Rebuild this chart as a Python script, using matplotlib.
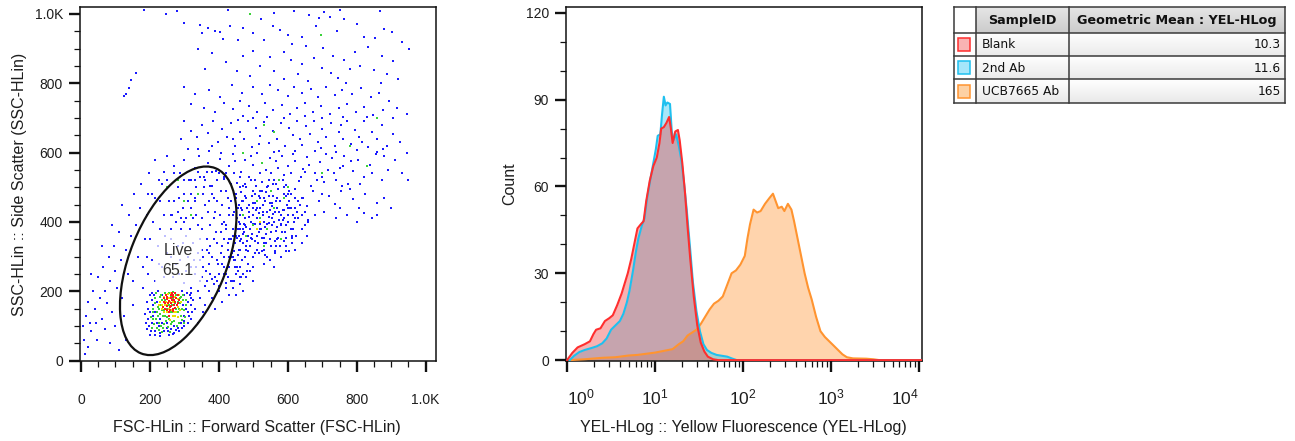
import numpy as np
import matplotlib
matplotlib.use("Agg")
import matplotlib.pyplot as plt
from matplotlib.patches import Ellipse, Rectangle
from matplotlib.ticker import MultipleLocator, LogLocator, NullFormatter

plt.rcParams['font.family'] = ['Liberation Sans', 'DejaVu Sans']
plt.rcParams['mathtext.fontset'] = 'custom'
plt.rcParams['mathtext.rm'] = 'Liberation Sans'
plt.rcParams['mathtext.it'] = 'Liberation Sans:italic'
plt.rcParams['mathtext.bf'] = 'Liberation Sans:bold'

# ---------------- scatter (FSC vs SSC) data ----------------
scatter_ticks = [0, 200, 400, 600, 800, 1000]
scatter_ticklabels = ['0', '200', '400', '600', '800', '1.0K']

blue_top = [(182,1012),(278,1008),(425,1010),(618,1009),(706,1006),(752,1011),(868,1009),(560,1002),(662,996),(690,988),
            (246,999),(522,986),(722,992),(300,975),(345,968),(432,966),(470,958),(556,966),(683,964),(880,956),
            (368,958),(388,952),(402,948),(576,954),(742,950),(903,948),(800,972),(762,984),(600,938),(640,934),
            (820,934),(852,930),(500,944),(352,944),(931,918),
            (412,928),(456,924),(532,924),(612,914),(652,908),(702,903),(832,904),(795,889),(872,879),(732,879),
            (762,868),(906,864),(952,898),(588,890),(548,876),(500,892),(470,880),(380,886),(338,898),(610,868),
            (640,855),(675,872),(700,845),(725,830),(780,842),(810,850),(850,838),(888,826),(920,812),(145,810),
            (160,830),(130,770),(360,840),(420,860),(452,835),(490,822),(520,850),(560,835),(590,812),(630,826),
            (660,808),(745,815),(770,800),(870,802)]

blue_upper = [(300,790),(330,770),(372,782),(402,760),(438,795),(468,772),(498,790),(525,768),(548,795),(572,780),
              (600,764),(618,790),(642,772),(668,784),(688,760),(712,790),(738,766),(758,782),(785,770),(812,786),
              (840,760),(866,772),(895,748),(918,730),(945,710),(356,730),(388,718),(415,742),(442,725),(462,748),
              (488,735),(512,716),(535,744),(558,722),(582,738),(606,712),(628,730),(650,742),(672,718),(695,735),
              (722,712),(748,728),(772,740),(798,716),(822,732),(848,708),(875,722),(905,700),(320,740),(470,705),
              (540,702),(590,700),(650,705),(700,700),(760,702),(830,702),
              (300,690),(318,662),(336,645),(352,680),(368,656),(384,690),(396,632),(410,668),(424,645),(436,685),
              (448,620),(460,660),(472,640),(484,690),(496,615),(508,672),(520,648),(532,688),(544,628),(556,662),
              (568,640),(580,685),(592,618),(604,670),(616,650),(628,690),(640,622),(652,676),(664,655),(676,690),
              (688,630),(700,668),(712,645),(724,685),(736,620),(748,660),(760,640),(772,690),(784,625),(796,665),
              (808,645),(820,690),(832,615),(845,660),(858,640),(872,680),(888,620),(905,655),(925,630),(945,600),
              (340,610),(372,605),(405,600),(440,640),(500,700),(560,602),(620,605),(680,605),(740,602),(800,608),
              (860,602),(290,640),(310,610),(380,620),(455,695),(515,625),(575,605),(635,640),(695,612),(755,680),
              (815,630),(875,610)]

blue_middle = [(250,590),(270,560),(288,540),(300,580),(318,520),(330,555),(342,590),(356,530),(368,570),(380,505),
               (392,548),(404,582),(416,525),(428,560),(440,595),(452,512),(464,545),(476,578),(488,530),(500,565),
               (512,598),(524,515),(536,550),(548,585),(560,520),(572,555),(584,590),(596,508),(608,542),(620,575),
               (632,518),(644,552),(656,588),(668,505),(680,540),(692,572),(704,515),(716,550),(728,585),(740,520),
               (752,556),(764,590),(776,510),(790,548),(805,580),(820,530),(838,565),(855,595),(872,520),(890,550),
               (910,580),(930,540),(950,520),(420,540),(446,575),(470,505),(494,590),(518,540),(542,505),(566,575),
               (590,535),(614,595),(638,530),(662,565),(686,520),(710,595),(734,540),(758,505),(782,575),(810,510),
               (845,540),(880,590),(225,520),(240,545),(215,580),(460,530),(505,520),(550,540),(600,560),(650,545),
               (700,530),(760,560),
               (620,495),(640,470),(655,445),(672,488),(690,460),(705,430),(720,475),(738,452),(755,490),(772,420),
               (790,465),(808,440),(825,480),(845,410),(860,455),(880,470),(640,420),(660,405),(700,480),(740,410),
               (780,495),(820,425),(600,480),(610,440),(680,420),(750,440),(800,400),(860,420),(620,410),(900,440)]

blue_left_tail = [(10,60),(20,40),(25,110),(15,130),(30,85),(40,150),(45,60),(55,180),(60,120),(70,200),
                  (75,165),(85,230),(90,140),(100,260),(105,210),(115,290),(120,180),(130,320),(135,250),(145,360),
                  (150,230),(160,390),(165,300),(170,440),(180,270),(185,350),(190,420),(195,480),(140,420),(110,370),
                  (95,330),(80,300),(65,270),(50,240),(35,200),(20,170),(5,100),(12,20),(42,110),(70,90),
                  (100,100),(125,130),(150,160),(60,330),(90,390),(120,450),(155,480),(175,510),(198,540),(130,60),
                  (30,250),(85,50),(110,30),(124,762),(140,786)]

blue_gate = [(180,210),(195,250),(205,290),(215,230),(222,330),(228,380),(235,270),(240,420),(248,310),(255,460),
             (262,350),(268,240),(275,400),(282,500),(288,290),(295,440),(300,225),(305,360),(312,520),(318,270),
             (325,410),(332,470),(338,310),(345,230),(350,380),(356,500),(362,260),(368,430),(374,330),(380,480),
             (386,220),(392,370),(398,280),(404,420),(410,330),(416,250),(422,390),(428,300),(434,460),(440,360),
             (446,270),(452,410),(458,320),(464,240),(470,380),(476,300),(482,440),(200,350),(210,400),(230,460),
             (250,520),(270,540),(290,380),(310,300),(330,250),(350,320),(370,280),(390,240),(410,450),(430,350),
             (450,480),(225,280),(245,360),(265,420),(285,470),(305,410),(325,340),(345,290),(365,350),(385,410),
             (405,370),(425,270),(445,230),(465,350),(215,470),(235,510),(260,380),(280,330),(300,480),(320,440),
             (340,390),(360,450),(380,300),(400,250),(420,490),(440,420),(460,270),(480,330),(190,300),(205,480),
             (275,280),(295,340),(315,380),(335,420),(355,270),(375,390),(395,460),(415,300),(435,230),(455,440),
             (475,390),(240,240),(262,300),(284,250),(306,260),(328,290),(350,240),(372,310),(394,340),(416,400),
             (438,310),(460,380),(482,260),(320,210),(300,520),(360,520),(400,540),(380,545),(340,545),
             (380,180),(400,200),(420,210),(440,230),(460,220),(470,200),(360,160),(390,150),(410,170),(450,190),
             (480,240),(500,230),(430,190),(370,200),(345,180),(355,140),(330,150),(320,120),(340,110),(300,100),
             (310,140),(365,230),(395,230),(425,240),
             (335,500),(345,530),(355,480),(365,545),(375,505),(385,470),(395,520),(405,490),(415,530),(425,470),
             (435,510),(445,540),(330,460),(350,410),(370,460),(390,430),(410,395),(430,440),(450,360),(345,350),
             (365,320),(385,350),(405,310),(425,340),(445,290),(335,270),(355,300),(375,250),(395,290),(415,270),
             (435,300),(455,260),(340,200),(360,215),(380,235),(400,215),(420,225),(440,210),(460,240),(300,400),
             (310,460),(280,430),(270,460),(260,420),(290,410),(320,480),(330,520)]

blue_cluster = [(440,300),(448,340),(455,380),(462,420),(470,460),(478,320),(485,360),(492,400),(499,440),(506,480),
                (513,340),(520,380),(527,420),(534,460),(541,300),(548,350),(555,390),(562,430),(569,470),(576,330),
                (583,370),(590,410),(597,450),(604,490),(611,360),(618,400),(452,270),(468,290),(484,280),(500,300),
                (516,310),(532,320),(548,290),(564,310),(580,300),(596,330),(612,340),(460,500),(476,510),(492,520),
                (508,505),(524,515),(540,500),(556,510),(572,495),(588,480),(604,460),(620,440),(630,410),(640,380),
                (445,430),(458,360),(472,395),(486,430),(495,365),(505,395),(515,425),(525,355),(535,385),(545,415),
                (555,445),(565,375),(575,405),(585,435),(595,390),(505,455),(520,470),(545,475),(565,460),(480,470),
                (490,330),(510,320),(530,340),(550,330),(570,350),(440,380),(450,470),(465,440),(475,410),(495,350),
                (515,370),(530,400),(540,430),(560,400),(580,420),(600,420),(610,380),(625,360),(470,340),(460,320),
                (520,440),(500,420),(490,380),(550,370),(580,390),(570,440),(592,372),(500,270),(530,280),(560,270),
                (420,250),(430,270),(425,320),(435,350),(410,280),(415,350),(430,420),(420,380),(505,345),(518,395),
                (538,365),(555,410),(528,448),(548,455),(512,410),(488,450),(472,370),(562,345),(588,345),(602,400),
                (615,420),(478,500),(498,490),(518,490),(538,485),(458,400),(466,460),(620,470),(635,450),(650,430),
                (645,470),(490,260),(470,250),(450,250),(620,320),(640,340),(655,360),(660,400),
                (445,315),(452,355),(460,395),(468,435),(476,475),(484,315),(492,355),(500,395),(508,435),(516,475),
                (524,315),(532,355),(540,395),(548,435),(556,475),(564,315),(572,355),(580,395),(588,435),(596,475),
                (604,315),(612,355),(448,290),(458,450),(478,385),(488,415),(498,455),(512,360),(522,380),(528,430),
                (536,340),(546,398),(558,422),(568,385),(578,460),(586,405),(596,355),(606,440),(616,380),(626,430),
                (505,310),(535,305),(565,330),(595,315),(475,300),(455,305),(462,345),(470,365),(482,345),(510,440),
                (530,470),(555,455),(575,430),(590,500),(610,480),(630,460),(525,490),(495,475),(465,485),(545,520),
                (565,510),(585,520),(600,440),(640,420),(650,390)]

blue_core = [(190,90),(200,75),(205,110),(210,130),(195,150),(215,85),(220,170),(225,100),(230,70),(235,190),
             (240,85),(248,95),(255,75),(262,90),(270,80),(280,95),(290,110),(298,130),(305,150),(310,170),
             (315,190),(300,190),(285,85),(200,190),(192,170),(208,160),(212,190),(296,160),(318,160),(322,140),
             (270,100),(250,110),(230,120),(215,140),(205,175),
             (195,120),(200,140),(198,100),(205,195),(215,75),(220,110),(228,80),(236,110),(252,85),(266,78),
             (276,88),(294,95),(300,115),(312,130),(318,180),(308,195),(292,200),(224,200),(202,85),(188,110),
             (186,135),(310,110),(325,175),(320,195)]

green_pts = [(210,120),(220,140),(225,110),(232,160),(238,130),(244,175),(250,150),(256,120),(262,185),(268,140),
             (274,165),(280,125),(286,180),(292,150),(220,95),(215,165),(228,185),(240,105),(255,195),(270,115),
             (285,150),(295,175),(300,145),(235,145),(245,130),(260,105),(275,190),(290,130),(225,150),(212,105),
             (280,170),(265,160),(250,180),(232,100),(305,175),
             (205,95),(208,140),(214,180),(218,120),(222,155),(226,88),(230,135),(234,175),(238,95),(242,145),
             (246,115),(252,98),(256,160),(260,140),(264,112),(268,178),(272,128),(278,100),(282,140),(288,165),
             (292,118),(296,190),(302,125),(306,160),(218,195),(236,82),(258,82),(284,110),(298,108),(224,128),
             (210,150),(244,195),(276,150),(290,185),(232,190),(250,125),(266,198),(204,125),
             (500,390),(520,410),(540,380),(560,440),(480,360),(510,460),(530,330),(550,490),(580,350),(470,420),
             (590,470),(600,500),(575,520),(525,570),(300,460),(320,420),(340,480),(280,520),(250,500),(470,600),
             (530,680),(560,660),(700,540),(780,620),(830,560),(860,700),(695,940),(490,1000)]

yellow_pts = [(235,160),(248,140),(258,170),(266,130),(272,185),(280,155),(242,185),(254,150),(262,195),(228,170),
              (285,190),(276,140),(244,160),(520,400),(510,380),
              (240,140),(250,160),(256,180),(262,145),(268,168),(274,130),(280,178),(286,145),(246,170),(234,150),
              (270,140),(258,118),(290,170),(226,160),(282,125),(252,192)]

red_pts = [(245,150),(252,165),(258,145),(264,175),(270,160),(276,180),(250,185),(260,190),(268,150),(240,170),
           (255,130),(280,165),(272,195),(262,158),(248,178),(238,155),(282,188),(266,188),
           (248,158),(256,172),(262,165),(268,185),(274,170),(254,140),(260,180),(244,165),(266,142),(278,160),
           (250,145),(270,175),(258,155),(264,195),(246,188),(284,175),(240,180),(272,152)]

gate_name = 'Live'
gate_percent = '65.1'
gate_center = (282, 288)
gate_width, gate_height, gate_angle = 576, 280, 67.9

# ---------------- histogram data ----------------
blank_x = [1.00,1.148,1.318,1.585,1.820,1.995,2.138,2.399,2.692,3.020,
           3.311,3.715,4.169,4.571,4.898,5.370,5.888,6.310,6.918,7.413,
           7.943,8.710,9.550,10.47,11.22,11.75,12.59,13.49,14.45,15.14,
           15.85,16.98,18.20,19.05,20.42,21.88,23.44,25.12,27.54,30.20,
           33.11,36.31,39.81,45.71,52.48,10800]
blank_y = [0,2.5,4.4,5.5,6.5,9,10.5,11,13.5,14.5,
           15.5,19,23,27,30,35,41,45.5,47,48,
           55,62,67,70,75,80,80.5,82,84,80,
           75,79,79.5,76,68,58,46,35,22,12,
           6,3,1.2,0.3,0,0]

second_x = [1.072,1.202,1.380,1.585,1.905,2.188,2.512,2.818,3.162,3.548,
            3.981,4.365,4.786,5.129,5.623,6.026,6.457,7.079,7.586,8.128,
            8.913,9.550,10.23,10.72,11.48,12.02,12.59,13.18,13.80,14.79,
            15.49,16.22,17.38,18.62,19.95,21.38,22.91,25.12,26.92,29.51,
            32.36,35.48,38.90,43.65,50.12,57.54,66.07,75.86,85.11,10800]
second_y = [0,1.5,2.8,3.5,4.2,4.8,5.8,7.5,10.5,12,
            13.5,16,20,24,31,37,42,46.5,49,56,
            63,68,73,77.5,78,85,91,88,89,88.5,
            79,76,78,74,69,61,52,38,27,17,
            10,5.5,3.5,2.5,1.8,1.5,1.2,0.5,0,0]

ucb_x = [1.072,1.585,2.512,3.548,5.012,6.310,7.943,10.0,12.59,15.85,
         18.62,20.89,23.44,26.30,29.51,33.11,37.15,41.69,46.77,52.48,
         58.88,66.07,74.13,83.18,93.33,104.7,112.2,120.2,131.8,144.5,
         158.5,177.8,199.5,218.8,234.4,251.2,275.4,295.1,323.6,354.8,
         380.2,416.9,457.1,501.2,549.5,602.6,676.1,758.6,851.1,955.0,
         1072,1202,1349,1514,1778,2512,3020,3548,10800]
ucb_y = [0,0.3,0.8,1.0,1.6,1.8,2.2,2.6,3.2,3.8,
         5.5,6.5,8.5,9.5,10.5,12.5,15,17.5,19.5,20.5,
         22,26,30,31,33,36,42,47,52,51,
         51.5,54,56,57.5,55,52.5,53,51.5,54,52,
         48,42,36,30,25,21,15,10,8,6.5,
         5,3.5,2,1,0.6,0.5,0.3,0,0]

hist_yticks = [0, 30, 60, 90, 120]
hist_xticks = [1, 10, 100, 1000, 10000]
hist_xticklabels = [r'$10^{0}$', r'$10^{1}$', r'$10^{2}$', r'$10^{3}$', r'$10^{4}$']

# ---------------- table data ----------------
table_header = ['SampleID', 'Geometric Mean : YEL-HLog']
sample_ids = ['Blank', '2nd Ab', 'UCB7665 Ab']
geo_means = ['10.3', '11.6', '165']

# ---------------- styles ----------------
line_colors = ['#ff2e2e', '#1ec0ef', '#ff9430']
fill_colors = ['#f04848', '#30c8f2', '#ff9a3c']
swatch_fill = ['#f9b3b3', '#a6e6fa', '#fdd1a4']
txt_color = '#1e1e1e'

fig = plt.figure(figsize=(12.95, 4.41), dpi=100)
W, H = 1295, 441

def px_axes(l, t, r, b):
    return fig.add_axes([l / W, (H - b) / H, (r - l) / W, (b - t) / H])

def style_axes(ax):
    for s in ax.spines.values():
        s.set_linewidth(1.1)
        s.set_color('#111111')
    ax.tick_params(which='major', direction='out', length=7.8, width=1.7, color='#111111',
                   labelsize=10, labelcolor=txt_color)
    ax.tick_params(which='minor', direction='out', length=4.2, width=0.9, color='#111111')
    ax.tick_params(axis='y', which='major', pad=4.5)

# ---------------- scatter panel ----------------
ax1 = px_axes(80, 7, 436, 361)
ax1.set_xlim(-3, 1030)
ax1.set_ylim(-1, 1020)

def draw_pts(ax, pts, color, z, size):
    xs = [p[0] for p in pts]
    ys = [p[1] for p in pts]
    ax.scatter(xs, ys, s=size, marker='s', c=color, linewidths=0, zorder=z)

blue_sparse = blue_top + blue_upper + blue_middle + blue_left_tail
blue_dense = blue_gate + blue_cluster + blue_core
draw_pts(ax1, blue_sparse, '#1a1aff', 2, 3.6)
draw_pts(ax1, blue_dense, '#1a1aff', 2, 4.2)
draw_pts(ax1, green_pts, '#3ad23a', 3, 3.6)
draw_pts(ax1, yellow_pts, '#e8e000', 4, 3.6)
draw_pts(ax1, red_pts, '#ff1a1a', 5, 3.6)

ax1.add_patch(Ellipse(gate_center, gate_width, gate_height, angle=gate_angle,
                      fill=False, edgecolor='#111111', linewidth=1.6, zorder=7))
ax1.text(gate_center[0], gate_center[1], gate_name + '\n' + gate_percent, ha='center', va='center',
         fontsize=11.5, color='#333333', linespacing=1.45, zorder=6,
         bbox=dict(boxstyle='square,pad=0.5', facecolor='white', edgecolor='none', alpha=0.72))

ax1.set_xticks(scatter_ticks)
ax1.set_xticklabels(scatter_ticklabels)
ax1.set_yticks(scatter_ticks)
ax1.set_yticklabels(scatter_ticklabels)
ax1.xaxis.set_minor_locator(MultipleLocator(50))
ax1.yaxis.set_minor_locator(MultipleLocator(50))
style_axes(ax1)
ax1.tick_params(axis='x', which='major', pad=15)
ax1.set_xlabel('FSC-HLin :: Forward Scatter (FSC-HLin)', fontsize=11.5, color=txt_color)
ax1.set_ylabel('SSC-HLin :: Side Scatter (SSC-HLin)', fontsize=11.5, color=txt_color)
ax1.xaxis.set_label_coords(0.497, -0.168)
ax1.yaxis.set_label_coords(-0.15, 0.5)

# ---------------- histogram panel ----------------
ax2 = px_axes(566, 7, 922, 361)
ax2.set_xscale('log')
ax2.set_xlim(10 ** -0.012, 10 ** 4.034)
ax2.set_ylim(-0.3, 122)

series = [(ucb_x, ucb_y, 2), (second_x, second_y, 1), (blank_x, blank_y, 0)]
for xs, ys, ci in series:
    ax2.fill_between(xs, 0, ys, color=fill_colors[ci], alpha=0.42, linewidth=0, zorder=2)
    ax2.plot(xs, ys, color=line_colors[ci], linewidth=1.5, zorder=3, solid_joinstyle='round')

ax2.set_yticks(hist_yticks)
ax2.yaxis.set_minor_locator(MultipleLocator(10))
ax2.set_xticks(hist_xticks)
ax2.set_xticklabels(hist_xticklabels)
ax2.xaxis.set_minor_locator(LogLocator(base=10, subs=np.arange(2, 10)))
ax2.xaxis.set_minor_formatter(NullFormatter())
style_axes(ax2)
ax2.tick_params(axis='x', which='major', pad=11, labelsize=12.5)
labs = ax2.get_xticklabels()
labs[0].set_ha('left')
labs[-1].set_ha('right')
ax2.set_xlabel('YEL-HLog :: Yellow Fluorescence (YEL-HLog)', fontsize=11.5, color=txt_color)
ax2.set_ylabel('Count', fontsize=11.5, color=txt_color)
ax2.xaxis.set_label_coords(0.497, -0.168)
ax2.yaxis.set_label_coords(-0.138, 0.5)

# ---------------- table ----------------
ax3 = px_axes(954, 7, 1285, 103)
ax3.set_xlim(0, 331)
ax3.set_ylim(96, 0)
ax3.axis('off')
col_edges = [0, 22, 115, 331]
row_edges = [0, 26, 49, 72, 96]
grad = np.linspace(0, 1, 32).reshape(-1, 1)

def grad_cell(x0, x1, y0, y1, c_top, c_bot):
    ct = np.array(matplotlib.colors.to_rgb(c_top))
    cb = np.array(matplotlib.colors.to_rgb(c_bot))
    img = ct[None, None, :] * (1 - grad[:, :, None]) + cb[None, None, :] * grad[:, :, None]
    ax3.imshow(img, extent=(x0, x1, y1, y0), aspect='auto', zorder=1, interpolation='bilinear')

for ri in range(4):
    for ci in range(3):
        x0, x1 = col_edges[ci], col_edges[ci + 1]
        y0, y1 = row_edges[ri], row_edges[ri + 1]
        if ri == 0 and ci > 0:
            grad_cell(x0, x1, y0, y1, '#e6e6e6', '#cbcbcb')
        elif ci == 0:
            grad_cell(x0, x1, y0, y1, '#ffffff', '#ffffff')
        else:
            grad_cell(x0, x1, y0, y1, '#ffffff', '#e9e9e9')
for xe in col_edges:
    ax3.plot([xe, xe], [0, 96], color='#3a3a3a', linewidth=1.1, zorder=3, clip_on=False)
for ye in row_edges:
    ax3.plot([0, 331], [ye, ye], color='#3a3a3a', linewidth=1.1, zorder=3, clip_on=False)

ax3.text((col_edges[1] + col_edges[2]) / 2, row_edges[1] / 2 + 0.5, table_header[0], ha='center', va='center',
         fontsize=9.2, fontweight='bold', family='DejaVu Sans', color='#111111', zorder=4)
ax3.text((col_edges[2] + col_edges[3]) / 2, row_edges[1] / 2 + 0.5, table_header[1], ha='center', va='center',
         fontsize=9.2, fontweight='bold', family='DejaVu Sans', color='#111111', zorder=4)
for i, (sid, gm) in enumerate(zip(sample_ids, geo_means)):
    yc = (row_edges[i + 1] + row_edges[i + 2]) / 2
    ax3.add_patch(Rectangle((3.5, yc - 6.5), 12.5, 13, facecolor=swatch_fill[i], edgecolor=line_colors[i],
                            linewidth=1.1, zorder=4))
    ax3.text(28, yc + 0.5, sid, ha='left', va='center', fontsize=8.8, family='DejaVu Sans',
             color='#111111', zorder=4)
    ax3.text(327, yc + 0.5, gm, ha='right', va='center', fontsize=8.8, family='DejaVu Sans',
             color='#111111', zorder=4)

fig.savefig('out.png', dpi=100)
